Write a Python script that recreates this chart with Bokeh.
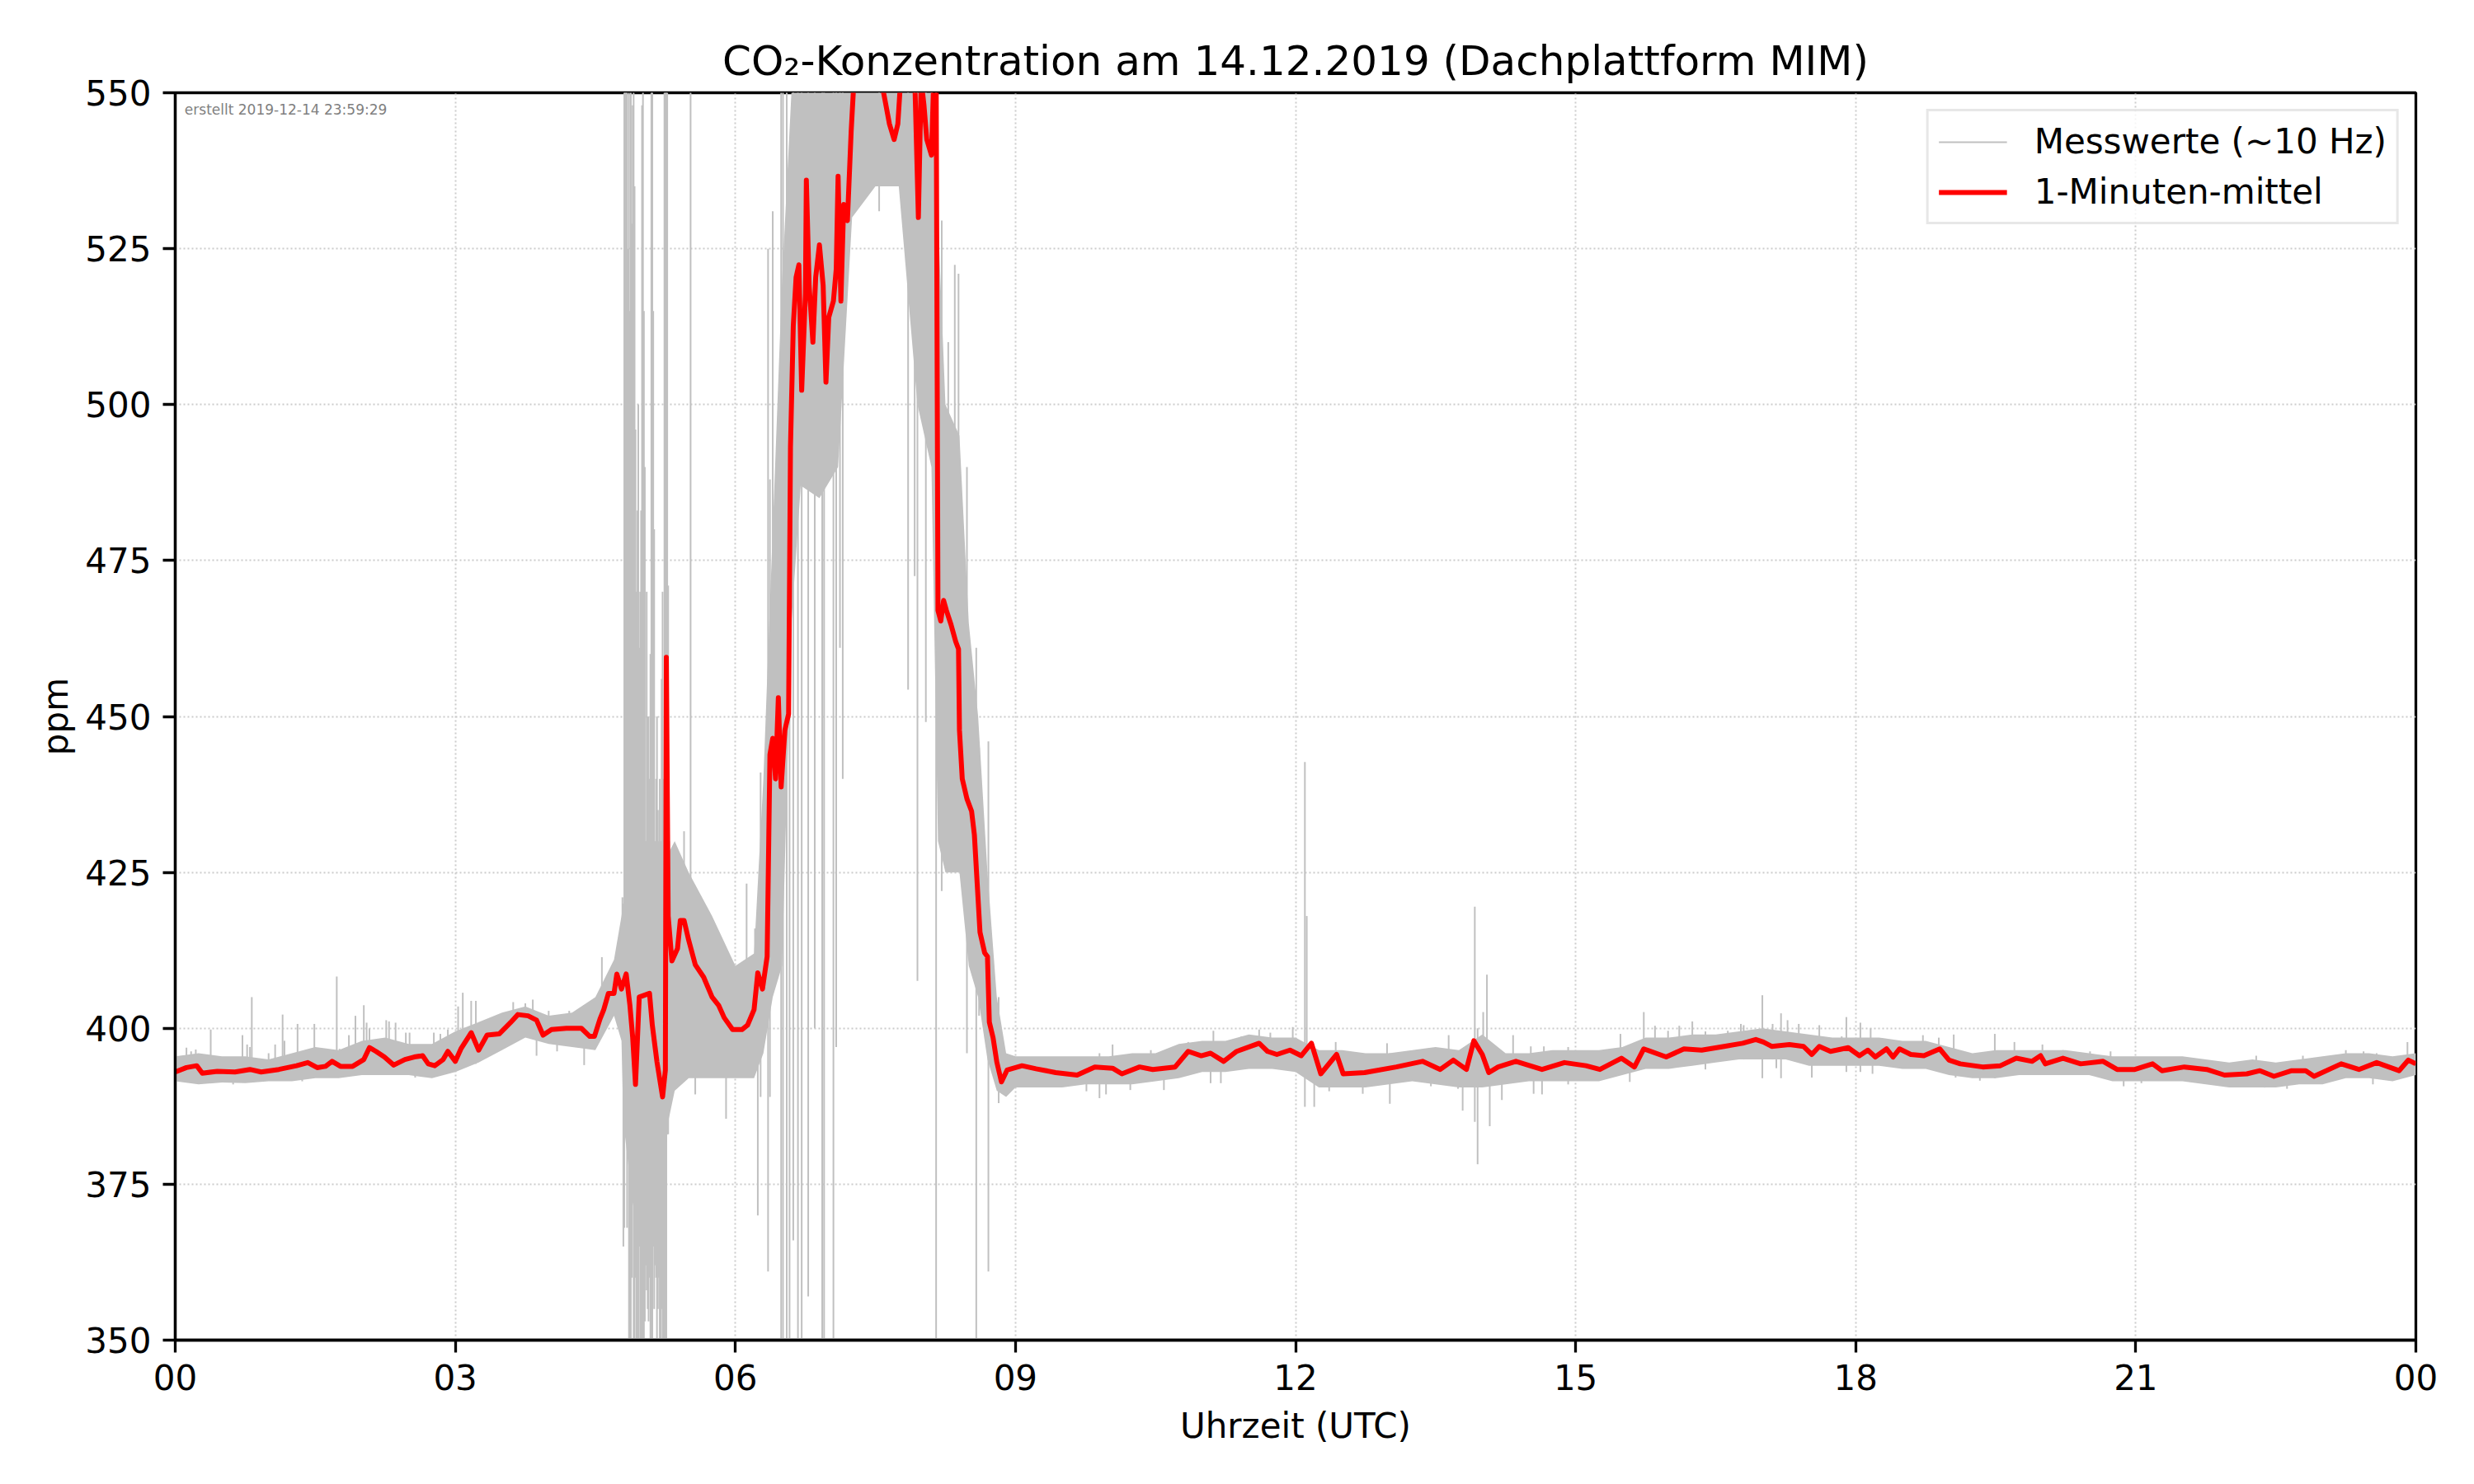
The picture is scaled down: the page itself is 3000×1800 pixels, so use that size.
from bokeh.plotting import figure
from bokeh.models import Range1d, FixedTicker, Legend, LegendItem, Label
from bokeh.embed import file_html
from bokeh.resources import INLINE

# ---------------- data (hours since 00 UTC, ppm) ----------------
red_t = [0.00, 0.12, 0.23, 0.29, 0.45, 0.64, 0.80, 0.92, 1.11, 1.30, 1.42, 1.52, 1.61, 1.68,
         1.77, 1.90, 2.02, 2.08, 2.15, 2.24, 2.34, 2.46, 2.56, 2.65, 2.71, 2.78, 2.87, 2.92,
         3.00, 3.06, 3.17, 3.25, 3.34, 3.47, 3.59, 3.67, 3.78, 3.87, 3.94, 4.03, 4.19, 4.35,
         4.44, 4.49, 4.55, 4.59, 4.64, 4.70, 4.73, 4.78, 4.83, 4.87, 4.90, 4.93, 4.97, 5.08,
         5.11, 5.16, 5.22, 5.25, 5.26, 5.28, 5.32, 5.38, 5.41, 5.45, 5.50, 5.57, 5.66, 5.75,
         5.82, 5.88, 5.97, 6.07, 6.13, 6.20, 6.24, 6.29, 6.34, 6.37, 6.40, 6.43, 6.46, 6.49,
         6.53, 6.57, 6.59, 6.62, 6.65, 6.68, 6.71, 6.75, 6.76, 6.79, 6.83, 6.86, 6.90, 6.94,
         6.97, 7.00, 7.05, 7.08, 7.10, 7.13, 7.16, 7.20, 7.24, 7.27, 7.35, 7.45, 7.55, 7.60,
         7.65, 7.70, 7.74, 7.77, 7.85, 7.92, 7.96, 7.99, 8.02, 8.05, 8.10, 8.13, 8.15, 8.17,
         8.20, 8.23, 8.26, 8.31, 8.36, 8.39, 8.40, 8.43, 8.48, 8.53, 8.56, 8.59, 8.62, 8.67,
         8.70, 8.72, 8.76, 8.80, 8.85, 8.91, 9.07, 9.22, 9.43, 9.66, 9.85, 10.04, 10.14, 10.33,
         10.47, 10.71, 10.85, 10.99, 11.09, 11.23, 11.37, 11.61, 11.70, 11.80, 11.94, 12.06,
         12.17, 12.27, 12.44, 12.51, 12.74, 13.08, 13.36, 13.55, 13.69, 13.83, 13.91, 14.00,
         14.07, 14.17, 14.36, 14.64, 14.88, 15.11, 15.26, 15.49, 15.63, 15.73, 15.97, 16.16,
         16.35, 16.59, 16.79, 16.93, 17.01, 17.10, 17.29, 17.44, 17.53, 17.61, 17.73, 17.92,
         18.04, 18.13, 18.21, 18.33, 18.40, 18.47, 18.59, 18.73, 18.90, 19.00, 19.12, 19.36,
         19.55, 19.72, 19.89, 19.98, 20.03, 20.22, 20.41, 20.65, 20.80, 20.99, 21.18, 21.28,
         21.52, 21.76, 21.95, 22.19, 22.33, 22.48, 22.67, 22.82, 22.91, 23.20, 23.39, 23.58,
         23.82, 23.92, 24.00]
red_v = [393.0, 393.7, 394.0, 392.8, 393.1, 393.0, 393.4, 393.0, 393.4, 394.0, 394.5, 393.7, 393.9, 394.7,
         393.9, 393.9, 395.0, 396.9, 396.3, 395.4, 394.1, 395.0, 395.4, 395.6, 394.3, 394.0, 395.0, 396.3,
         394.7, 396.7, 399.3, 396.5, 398.9, 399.1, 400.9, 402.2, 402.0, 401.3, 398.9, 399.8, 400.0, 400.0,
         398.7, 398.7, 401.5, 403.0, 405.6, 405.6, 408.7, 406.3, 408.7, 403.7, 398.5, 391.0, 405.0, 405.6,
         400.5, 394.6, 389.0, 393.3, 459.5, 418.0, 410.8, 412.8, 417.3, 417.3, 414.1, 410.2, 408.2, 405.0,
         403.7, 401.7, 399.8, 399.8, 400.5, 403.0, 408.9, 406.3, 411.5, 443.9, 446.5, 440.0, 453.0, 438.7,
         447.8, 450.4, 493.2, 512.6, 520.4, 522.4, 502.3, 517.8, 536.0, 519.1, 510.0, 520.4, 525.6, 519.1,
         503.6, 514.0, 516.6, 521.7, 536.6, 516.6, 532.1, 529.5, 543.8, 552.0, 560.0, 562.0, 553.0, 549.0,
         545.0, 542.5, 545.0, 552.0, 558.0, 553.0, 530.0, 552.0, 548.0, 542.5, 540.0, 555.0, 555.0, 467.0,
         465.3, 468.6, 467.0, 464.7, 462.0, 460.8, 447.8, 440.0, 436.8, 434.8, 431.0, 423.2, 415.4, 412.1,
         411.5, 401.0, 398.5, 394.6, 391.4, 393.3, 394.0, 393.5, 392.9, 392.5, 393.8, 393.6, 392.7, 393.8,
         393.4, 393.8, 396.3, 395.6, 396.0, 394.7, 396.3, 397.6, 396.3, 395.8, 396.5, 395.6,
         397.6, 392.7, 395.8, 392.7, 392.9, 393.8, 394.7, 393.4, 394.9, 393.4, 398.0, 395.8,
         392.9, 393.8, 394.7, 393.4, 394.5, 394.0, 393.4, 395.2, 393.8, 396.7, 395.4, 396.7,
         396.5, 397.1, 397.6, 398.2, 397.8, 397.1, 397.4, 397.1, 395.8, 397.1, 396.3, 396.9,
         395.6, 396.5, 395.4, 396.7, 395.4, 396.7, 395.8, 395.6, 396.7, 394.9, 394.3, 393.8,
         394.0, 395.2, 394.7, 395.6, 394.3, 395.2, 394.3, 394.7, 393.4, 393.4, 394.3, 393.2,
         393.8, 393.4, 392.5, 392.7, 393.2, 392.3, 393.2, 393.2, 392.3, 394.3, 393.4, 394.5,
         393.2, 394.9, 394.3]

# envelope of the dense raw 10 Hz values
gray_t = [0.00, 0.25, 0.50, 0.75, 1.00, 1.25, 1.50, 1.75, 2.00, 2.25, 2.50, 2.75, 3.00, 3.25,
          3.50, 3.75, 4.00, 4.25, 4.50, 4.70, 4.78, 4.80, 4.90, 5.00, 5.10, 5.20, 5.28, 5.35,
          5.50, 5.75, 6.00, 6.20, 6.30, 6.40, 6.50, 6.60, 6.70, 6.90, 7.10, 7.25, 7.50, 7.75,
          7.95, 8.10, 8.17, 8.25, 8.40, 8.50, 8.60, 8.70, 8.80, 8.90, 9.00, 9.25, 9.50, 9.75,
          10.00, 10.25, 10.50, 10.75, 11.00, 11.25, 11.50, 11.75, 12.00, 12.25, 12.50, 12.75,
          13.00, 13.25, 13.50, 13.75, 14.00, 14.25, 14.50, 14.75, 15.00, 15.25, 15.50, 15.75,
          16.00, 16.25, 16.50, 16.75, 17.00, 17.25, 17.50, 17.75, 18.00, 18.25, 18.50, 18.75,
          19.00, 19.25, 19.50, 19.75, 20.00, 20.25, 20.50, 20.75, 21.00, 21.25, 21.50, 21.75,
          22.00, 22.25, 22.50, 22.75, 23.00, 23.25, 23.50, 23.75, 24.00]
gray_lo = [391.5, 391.0, 391.3, 391.2, 391.5, 391.5, 392.0, 392.0, 392.5, 392.5, 392.5, 392.0, 393.0, 394.5,
           396.5, 398.5, 397.5, 397.0, 396.5, 402.0, 398.0, 385.0, 372.0, 365.0, 365.0, 368.0, 385.0, 390.0,
           392.0, 392.0, 392.0, 392.0, 396.0, 405.0, 410.0, 465.0, 487.0, 485.0, 490.0, 530.0, 535.0, 535.0,
           500.0, 490.0, 430.0, 425.0, 425.0, 410.0, 405.0, 395.0, 390.0, 389.0, 390.5, 390.5, 390.5, 391.0,
           391.0, 391.0, 391.5, 392.0, 393.0, 393.0, 393.5, 393.5, 393.0, 390.5, 390.5, 390.5,
           391.0, 391.5, 391.0, 390.5, 390.5, 391.0, 391.5, 391.5, 391.5, 391.5, 392.5, 393.5,
           393.5, 394.0, 394.5, 395.0, 395.0, 395.0, 394.0, 394.0, 394.0, 394.0, 393.5, 393.5,
           392.5, 392.0, 392.0, 392.5, 392.5, 392.5, 392.5, 391.5, 391.5, 391.5, 391.5, 391.0,
           390.5, 390.5, 390.5, 391.0, 391.0, 392.0, 392.0, 391.5, 392.5]
gray_hi = [395.5, 396.0, 395.5, 395.5, 395.0, 396.0, 397.0, 396.5, 398.0, 398.5, 397.5, 397.5, 399.5, 401.0,
           402.5, 403.5, 402.0, 402.5, 405.0, 411.0, 418.0, 420.0, 425.0, 430.0, 425.0, 425.0, 428.0, 430.0,
           425.0, 418.0, 410.0, 412.0, 440.0, 480.0, 520.0, 550.0, 556.0, 556.0, 556.0, 556.0, 556.0, 556.0,
           556.0, 556.0, 530.0, 500.0, 495.0, 465.0, 450.0, 425.0, 405.0, 396.0, 395.5, 395.5, 395.5, 395.5,
           395.5, 396.0, 396.0, 397.5, 398.0, 398.0, 399.0, 398.5, 398.5, 396.5, 396.5, 396.0,
           396.0, 396.5, 397.0, 396.5, 399.0, 396.0, 396.0, 396.5, 396.5, 396.5, 397.0, 398.5,
           398.5, 399.0, 399.0, 399.5, 400.0, 399.5, 399.0, 398.5, 398.5, 398.5, 398.0, 398.0,
           397.0, 396.0, 396.5, 396.5, 396.5, 396.5, 396.0, 395.5, 395.5, 395.5, 395.5, 395.0,
           394.5, 395.0, 394.5, 395.0, 395.5, 396.0, 396.0, 395.5, 396.0]

# individual excursions of the raw values: time, lowest, highest
spike_t = [0.12, 0.17, 0.20, 0.22, 0.26, 0.38, 0.62, 0.72, 0.77, 0.80, 0.82, 0.83, 1.00, 1.07,
           1.15, 1.17, 1.20, 1.31, 1.36, 1.49, 1.73, 1.76, 1.77, 1.86, 1.93, 2.02, 2.05, 2.08,
           2.26, 2.29, 2.36, 2.38, 2.47, 2.51, 2.57, 2.77, 2.84, 2.92, 3.03, 3.08, 3.17, 3.22,
           3.62, 3.75, 3.83, 3.87, 4.00, 4.09, 4.22, 4.38, 4.41, 4.57, 4.69,
           4.79, 4.80, 4.81, 4.82, 4.83, 4.84, 4.85, 4.86, 4.87, 4.88, 4.89, 4.90, 4.91, 4.92,
           4.93, 4.94, 4.95, 4.96, 4.97, 4.98, 4.99, 5.00, 5.01, 5.02, 5.03, 5.04, 5.05, 5.06,
           5.07, 5.08, 5.09, 5.10, 5.11, 5.12, 5.13, 5.14, 5.15, 5.16, 5.17, 5.18, 5.19, 5.20,
           5.21, 5.22, 5.23, 5.24, 5.25, 5.26, 5.27, 5.28, 5.29, 5.30,
           5.45, 5.52, 5.57, 5.90, 6.12, 6.21, 6.24, 6.27, 6.35, 6.37, 6.40, 6.45, 6.49, 6.51,
           6.55, 6.58, 6.62, 6.67, 6.71, 6.78, 6.85, 6.93, 6.95, 7.05, 7.08, 7.12, 7.15, 7.54,
           7.85, 7.92, 7.95, 8.04, 8.10, 8.15, 8.21, 8.28, 8.35, 8.39, 8.48, 8.58, 8.61, 8.71,
           8.82,
           9.76, 9.90, 9.97, 10.04, 10.23, 10.45, 10.59, 10.85, 11.09, 11.12, 11.20, 11.42, 11.61,
           11.73, 11.97, 12.10, 12.12, 12.20, 12.36, 12.43, 12.72, 12.98, 13.01, 13.45, 13.64,
           13.74, 13.79, 13.92, 13.95, 14.01, 14.05, 14.08, 14.21, 14.33, 14.52, 14.55, 14.64,
           14.66, 14.92, 15.48, 15.58, 15.73, 15.85, 15.99, 16.11, 16.25, 16.39, 16.63, 16.77,
           16.80, 17.00, 17.11, 17.15, 17.20, 17.27, 17.39, 17.53, 17.61, 17.85, 17.90, 18.05,
           18.16, 18.18, 18.72, 18.89, 19.05, 19.07, 19.33, 19.49, 19.70, 19.86, 20.00, 20.22,
           20.51, 20.73, 20.87, 21.06, 21.90, 22.21, 22.29, 22.38, 22.62, 22.79, 23.25, 23.44,
           23.54, 23.58, 23.91]
spike_lo = [393.0, 393.0, 391.5, 393.0, 391.2, 393.0, 391.0, 392.5, 393.0, 393.0, 392.5, 391.5, 393.0, 393.0,
            392.5, 393.0, 391.8, 392.5, 391.5, 393.0, 393.5, 393.5, 392.3, 393.5, 393.5, 394.0, 394.5, 395.0,
            394.0, 393.5, 393.0, 392.6, 393.5, 394.0, 392.1, 393.0, 393.5, 394.5, 393.5, 395.0, 396.0, 394.3,
            399.0, 399.5, 400.0, 395.6, 398.0, 396.3, 398.0, 394.1, 398.0, 400.0, 404.0,
            400.0, 365.0, 368.0, 385.0, 388.0, 368.0, 390.0, 345.0, 345.0, 345.0, 360.0, 372.0, 345.0, 345.0,
            360.0, 345.0, 350.0, 345.0, 365.0, 345.0, 345.0, 345.0, 345.0, 350.0, 353.0, 362.0, 358.0, 355.0,
            353.0, 360.0, 345.0, 345.0, 345.0, 365.0, 355.0, 362.0, 360.0, 350.0, 355.0, 360.0, 345.0, 350.0,
            355.0, 345.0, 345.0, 345.0, 345.0, 345.0, 383.0, 383.0, 390.0, 388.0,
            395.0, 422.0, 389.4, 385.5, 400.0, 395.0, 370.0, 389.0, 361.0, 389.0, 409.0, 414.0, 345.0, 345.0,
            345.0, 345.0, 366.0, 345.0, 345.0, 357.0, 400.0, 345.0, 345.0, 345.0, 397.0, 461.0, 440.0, 531.0,
            454.3, 472.5, 407.6, 449.1, 512.7, 345.0, 422.0, 432.0, 427.0, 430.0, 396.0, 345.0, 402.0, 361.0,
            388.0,
            389.9, 388.8, 389.4, 392.0, 390.1, 392.0, 390.1, 393.0, 391.2, 394.0, 391.2, 394.0, 394.0,
            394.0, 394.0, 387.4, 392.0, 387.4, 389.9, 393.0, 389.5, 392.0, 387.9, 390.7, 392.0,
            390.3, 386.8, 385.0, 378.2, 392.0, 392.0, 384.3, 388.5, 392.0, 392.0, 389.5, 389.4,
            392.0, 391.0, 393.0, 391.4, 393.5, 395.0, 395.0, 395.0, 395.0, 393.4, 395.0, 395.5,
            395.0, 392.0, 395.0, 393.6, 392.0, 395.0, 395.0, 392.1, 395.0, 395.0, 393.0, 393.0,
            394.5, 392.7, 394.0, 394.0, 393.0, 392.1, 391.6, 392.0, 393.0, 392.5, 393.5, 393.0,
            393.0, 393.0, 390.7, 391.2, 390.8, 390.8, 392.0, 390.5, 390.3, 392.0, 392.5, 392.5,
            391.0, 392.5, 393.0]
spike_hi = [396.9, 396.3, 395.0, 396.6, 394.5, 399.8, 394.5, 398.9, 397.4, 397.0, 405.0, 395.0, 396.0, 397.4,
            402.2, 398.0, 395.0, 400.7, 395.0, 400.7, 408.3, 396.7, 395.0, 398.9, 402.0, 403.7, 400.9, 400.0,
            401.3, 401.1, 400.9, 395.5, 399.3, 399.3, 395.5, 399.3, 399.1, 399.8, 403.5, 405.7, 404.4, 404.4,
            404.2, 404.0, 404.6, 400.0, 402.8, 400.0, 402.8, 400.0, 401.8, 411.4, 410.0,
            421.0, 420.0, 556.0, 556.0, 556.0, 556.0, 525.0, 556.0, 515.0, 556.0, 529.0, 548.0, 556.0, 535.0,
            496.0, 470.0, 483.0, 500.0, 461.0, 470.0, 483.0, 548.0, 556.0, 515.0, 490.0, 430.0, 470.0, 450.0,
            450.0, 440.0, 460.0, 556.0, 556.0, 515.0, 480.0, 430.0, 440.0, 450.0, 435.0, 430.0, 440.0, 430.0,
            456.0, 470.0, 440.0, 556.0, 556.0, 556.0, 556.0, 471.0, 430.0, 425.0,
            431.6, 556.0, 415.0, 410.0, 423.2, 416.0, 410.0, 441.0, 525.0, 488.0, 531.0, 490.0, 556.0, 556.0,
            556.0, 513.0, 556.0, 556.0, 556.0, 556.0, 556.0, 556.0, 556.0, 556.0, 556.0, 556.0, 556.0, 556.0,
            556.0, 556.0, 556.0, 556.0, 556.0, 556.0, 529.5, 510.0, 522.4, 521.0, 490.0, 461.0, 445.0, 446.0,
            405.0,
            394.0, 396.0, 394.0, 397.4, 394.0, 396.5, 394.5, 397.8, 394.5, 399.6, 395.0, 398.7, 399.8,
            399.3, 400.2, 442.7, 418.0, 397.0, 395.0, 397.8, 394.5, 397.6, 396.0, 395.5, 398.9,
            395.5, 396.0, 419.5, 400.0, 402.6, 408.6, 397.0, 394.5, 398.9, 397.1, 395.0, 396.0,
            397.1, 397.0, 399.1, 396.0, 402.6, 400.4, 399.6, 400.4, 401.1, 399.5, 399.6, 400.7,
            400.5, 405.3, 400.7, 396.0, 402.4, 401.3, 400.7, 398.0, 400.5, 398.7, 401.8, 400.9,
            400.0, 396.0, 398.9, 398.5, 399.0, 396.0, 395.0, 399.1, 397.8, 396.0, 397.4, 396.5,
            396.3, 396.3, 394.5, 395.0, 394.5, 394.5, 395.6, 394.5, 394.5, 395.6, 396.5, 396.3,
            395.0, 396.0, 397.8]

hour_ticks = [0, 3, 6, 9, 12, 15, 18, 21, 24]
hour_labels = ["00", "03", "06", "09", "12", "15", "18", "21", "00"]
ppm_ticks = [350, 375, 400, 425, 450, 475, 500, 525, 550]

FONT = "DejaVu Sans"
GRAY = "#c0c0c0"

p = figure(width=2984, height=1784, output_backend="svg", toolbar_location=None,
           x_range=Range1d(0, 24), y_range=Range1d(350, 550),
           min_border_left=212, min_border_right=55, min_border_top=112, min_border_bottom=159,
           title="CO\u2082-Konzentration am 14.12.2019 (Dachplattform MIM)")

p.title.text_font = FONT
p.title.text_font_size = "50px"
p.title.text_font_style = "normal"
p.title.text_color = "black"
p.title.align = "center"
p.title.standoff = 20

p.outline_line_color = "black"
p.outline_line_width = 3.3
p.background_fill_color = "white"
p.border_fill_color = "white"

for ax in (p.xaxis[0], p.yaxis[0]):
    ax.axis_line_width = 3.3
    ax.axis_line_color = "black"
    ax.major_tick_line_width = 3.3
    ax.major_tick_line_color = "black"
    ax.major_tick_out = 15
    ax.major_tick_in = 0
    ax.minor_tick_line_color = None
    ax.major_label_text_font = FONT
    ax.major_label_text_font_size = "42px"
    ax.major_label_text_color = "black"
    ax.major_label_standoff = 14
    ax.axis_label_text_font = FONT
    ax.axis_label_text_font_size = "42px"
    ax.axis_label_text_font_style = "normal"
    ax.axis_label_text_color = "black"

p.xaxis.axis_label_standoff = 16
p.yaxis.axis_label_standoff = 8
p.xaxis.ticker = FixedTicker(ticks=hour_ticks)
p.xaxis.major_label_overrides = {t: l for t, l in zip(hour_ticks, hour_labels)}
p.yaxis.ticker = FixedTicker(ticks=ppm_ticks)
p.xaxis.axis_label = "Uhrzeit (UTC)"
p.yaxis.axis_label = "ppm"

for g in (p.xgrid[0], p.ygrid[0]):
    g.grid_line_color = "#cccccc"
    g.grid_line_width = 2
    g.grid_line_dash = "2 3"
p.xgrid.ticker = FixedTicker(ticks=hour_ticks)
p.ygrid.ticker = FixedTicker(ticks=ppm_ticks)

p.varea(x=gray_t, y1=gray_lo, y2=gray_hi, fill_color=GRAY, fill_alpha=1.0)
seg = p.segment(x0=spike_t, y0=spike_lo, x1=spike_t, y1=spike_hi, line_color=GRAY, line_width=2)
red = p.line(red_t, red_v, line_color="#ff0000", line_width=6, line_join="round")

legend = Legend(items=[LegendItem(label="Messwerte (~10 Hz)", renderers=[seg]),
                       LegendItem(label="1-Minuten-mittel", renderers=[red])],
                location="top_right")
legend.margin = 20
legend.padding = 12
legend.spacing = 12
legend.glyph_width = 83
legend.glyph_height = 42
legend.label_height = 42
legend.label_standoff = 33
legend.label_text_font = FONT
legend.label_text_font_size = "42px"
legend.label_text_color = "black"
legend.border_line_color = "#d0d0d0"
legend.border_line_width = 3
legend.background_fill_alpha = 0.8
p.add_layout(legend)

stamp = Label(x=0.1, y=548.6, text="erstellt 2019-12-14 23:59:29", text_font=FONT,
              text_font_size="17px", text_color="#808080", text_baseline="top", text_align="left")
p.add_layout(stamp)

open("out.html", "w").write(file_html(p, INLINE))
